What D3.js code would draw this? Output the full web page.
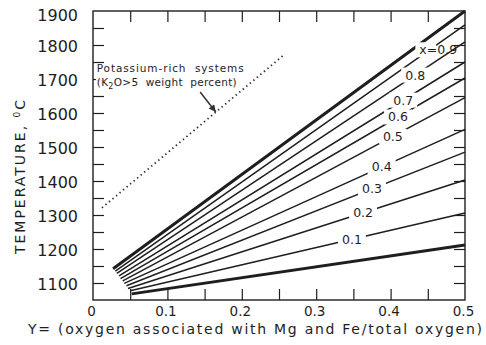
<!DOCTYPE html>
<html>
<head>
<meta charset="utf-8">
<script src="https://cdn.jsdelivr.net/npm/d3@7"></script>
<style>
  body { margin: 0; background: #fff; }
  text { font-family: "DejaVu Sans", sans-serif; fill: #1e1e1e; }
</style>
</head>
<body>
<div id="chart"></div>
<script>
// axis ticks
const xLabelTicks = [0, 0.1, 0.2, 0.3, 0.4, 0.5]
const xTickLabels = ["0", "0.1", "0.2", "0.3", "0.4", "0.5"]
const xMarkTicks = [0.05, 0.1, 0.15, 0.2, 0.25, 0.3, 0.35, 0.4, 0.45]
const yLabelTicks = [1100, 1200, 1300, 1400, 1500, 1600, 1700, 1800, 1900]
const yMarkTicks = [1100, 1150, 1200, 1250, 1300, 1350, 1400, 1450, 1500, 1550, 1600, 1650, 1700, 1750, 1800, 1850]

// one line per composition x (0 and 1.0 are the heavy bounding lines)
const compositions = [0, 0.1, 0.2, 0.3, 0.4, 0.5, 0.6, 0.7, 0.8, 0.9, 1.0]
const lineLabels = [null, "0.1", "0.2", "0.3", "0.4", "0.5", "0.6", "0.7", "0.8", "x=0.9", null]
const startOxygen = [0.052, 0.050, 0.047, 0.045, 0.042, 0.040, 0.037, 0.035, 0.032, 0.030, 0.027]
const startTemp = [1068, 1077, 1084, 1092, 1099, 1106, 1113, 1121, 1128, 1135, 1142]
const endOxygen = [0.5, 0.5, 0.5, 0.5, 0.5, 0.5, 0.5, 0.5, 0.5, 0.5, 0.5]
const endTemp = [1212, 1306, 1403, 1485, 1552, 1645, 1703, 1750, 1809, 1859, 1900]
const labelOxygen = [null, 0.348, 0.363, 0.375, 0.388, 0.403, 0.41, 0.417, 0.433, 0.464, null]

// potassium-rich systems (dotted)
const dottedOxygen = [0.012, 0.255]
const dottedTemp = [1321, 1768]
const arrowOxygen = [0.144, 0.165]
const arrowTemp = [1662, 1603]

var width = 486
var height = 345
var margin = { left: 93, right: 21, top: 11, bottom: 45 }

var x = d3.scaleLinear()
            .domain([0, 0.5])
            .range([margin.left, width - margin.right])

var y = d3.scaleLinear()
            .domain([1050, 1900])
            .range([height - margin.bottom, margin.top])

var svg = d3.select("#chart")
            .append("svg")
            .attr("width", width)
            .attr("height", height)

var ink = "#1e1e1e"

// inward tick marks on all four sides
function marks(axis, transform) {
    var g = svg.append("g").attr("transform", transform).call(axis)
    g.select(".domain").remove()
    g.selectAll("line").attr("stroke", ink).attr("stroke-width", 1.2)
    return g
}
var plotW = x(0.5) - x(0)
var plotH = y(1050) - y(1900)
marks(d3.axisBottom(x).tickValues(xMarkTicks).tickSize(-11).tickFormat(""), `translate(0,${y(1050)})`)
marks(d3.axisTop(x).tickValues(xMarkTicks).tickSize(-11).tickFormat(""), `translate(0,${y(1900)})`)
marks(d3.axisLeft(y).tickValues(yMarkTicks).tickSize(-11).tickFormat(""), `translate(${x(0)},0)`)
marks(d3.axisRight(y).tickValues(yMarkTicks).tickSize(-11).tickFormat(""), `translate(${x(0.5)},0)`)

// tick labels
var xl = svg.append("g")
            .attr("transform", `translate(0,${y(1050)})`)
            .call(d3.axisBottom(x).tickValues(xLabelTicks).tickSize(0).tickPadding(6)
                    .tickFormat((d, i) => xTickLabels[i]))
xl.select(".domain").remove()
xl.selectAll("text").style("font-size", "13.5px").attr("fill", ink).attr("dx", -2)

var yl = svg.append("g")
            .attr("transform", `translate(${x(0)},0)`)
            .call(d3.axisLeft(y).tickValues(yLabelTicks).tickSize(0).tickPadding(15)
                    .tickFormat(d3.format("d")))
yl.select(".domain").remove()
yl.selectAll("text").style("font-size", "16px").attr("fill", ink)
    .attr("dy", d => d == 1900 ? "0.6em" : "0.4em")

// frame
svg.append("rect")
    .attr("x", x(0)).attr("y", y(1900))
    .attr("width", plotW).attr("height", plotH)
    .attr("fill", "none").attr("stroke", ink).attr("stroke-width", 1.4)

// dotted line + annotation
svg.append("line")
    .attr("x1", x(dottedOxygen[0])).attr("y1", y(dottedTemp[0]))
    .attr("x2", x(dottedOxygen[1])).attr("y2", y(dottedTemp[1]))
    .attr("stroke", "#333").attr("stroke-width", 1.8)
    .attr("stroke-dasharray", "1.4 3.2")

svg.append("rect")
    .attr("x", x(0.004)).attr("y", y(1735)).attr("width", 150).attr("height", 13)
    .attr("fill", "#fff")

var note = svg.append("g").style("font-family", "'DejaVu Sans Mono', monospace").style("font-size", "10.5px")
note.append("text")
    .attr("x", x(0.005)).attr("y", y(1720))
    .attr("textLength", 147).attr("lengthAdjust", "spacing")
    .style("white-space", "pre")
    .text("Potassium-rich  systems")
var l2 = note.append("text")
    .attr("x", x(0.005)).attr("y", y(1679))
    .attr("textLength", 140).attr("lengthAdjust", "spacing")
    .style("white-space", "pre")
l2.append("tspan").text("(K")
l2.append("tspan").attr("dy", 3).style("font-size", "8px").text("2")
l2.append("tspan").attr("dy", -3).text("O>5  weight  percent)")

svg.append("defs").append("marker")
    .attr("id", "head")
    .attr("markerUnits", "userSpaceOnUse")
    .attr("viewBox", "0 0 10 10")
    .attr("refX", 10).attr("refY", 5)
    .attr("markerWidth", 8).attr("markerHeight", 7)
    .attr("orient", "auto")
    .append("path").attr("d", "M0,0 L10,5 L0,10 z").attr("fill", "#333")

svg.append("line")
    .attr("x1", x(arrowOxygen[0])).attr("y1", y(arrowTemp[0]))
    .attr("x2", x(arrowOxygen[1])).attr("y2", y(arrowTemp[1]))
    .attr("stroke", "#333").attr("stroke-width", 1.5)
    .attr("marker-end", "url(#head)")

// composition lines
var lines = compositions.map((c, i) => ({
    comp: c,
    label: lineLabels[i],
    x0: startOxygen[i], t0: startTemp[i],
    x1: endOxygen[i], t1: endTemp[i],
    lx: labelOxygen[i]
}))

svg.append("g")
    .selectAll("line")
    .data(lines)
    .enter()
    .append("line")
    .attr("x1", d => x(d.x0)).attr("y1", d => y(d.t0))
    .attr("x2", d => x(d.x1)).attr("y2", d => y(d.t1))
    .attr("stroke", ink)
    .attr("stroke-width", d => (d.comp == 0 || d.comp == 1) ? 3 : 1.5)

var labels = svg.append("g")
lines.filter(d => d.label).forEach(function(d) {
    var t = d.t0 + (d.t1 - d.t0) * (d.lx - d.x0) / (d.x1 - d.x0)
    var special = d.label.startsWith("x=")
    var g = labels.append("g")
    var bg = g.append("rect").attr("fill", "#fff")
    var txt = g.append("text")
                .attr("x", x(d.lx)).attr("y", y(t) + (special ? 6 : 0))
                .attr("text-anchor", "middle")
                .attr("dominant-baseline", "central")
                .style("font-size", "12.5px")
                .text(d.label)
    var b = txt.node().getBBox()
    var w = special ? txt.node().getSubStringLength(0, 2) + 3 : b.width + 8
    bg.attr("x", b.x - 4).attr("y", b.y).attr("width", w).attr("height", b.height)
})

// axis titles
svg.append("text")
    .attr("x", 28).attr("y", 334)
    .attr("textLength", 454).attr("lengthAdjust", "spacing")
    .style("font-size", "14px")
    .text("Y= (oxygen associated with Mg and Fe/total oxygen)")

var yt = svg.append("text")
    .attr("transform", "translate(25,176) rotate(-90)")
    .attr("text-anchor", "middle")
    .style("font-size", "14px")
    .style("letter-spacing", "2px")
yt.append("tspan").text("TEMPERATURE, ")
yt.append("tspan").attr("dy", -5).style("font-size", "9px").text("0")
yt.append("tspan").attr("dy", 5).text("C")
</script>
</body>
</html>
